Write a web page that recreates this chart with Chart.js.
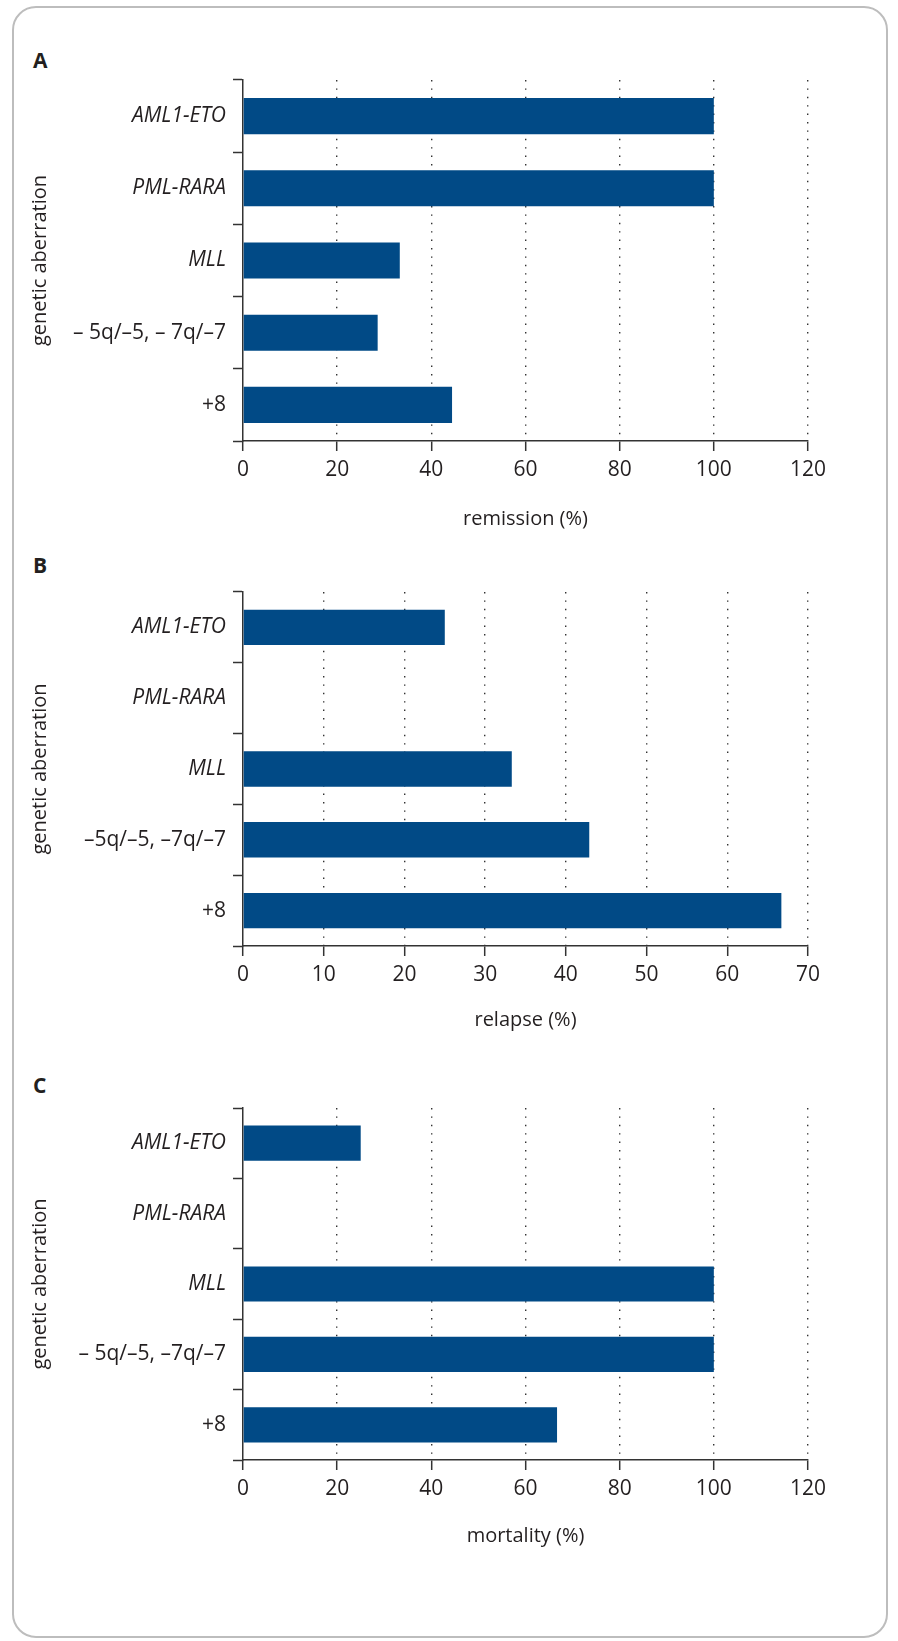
<!DOCTYPE html>
<html>
<head>
<meta charset="utf-8">
<script src="https://cdn.jsdelivr.net/npm/chart.js@4"></script>
<style>
  body { margin: 0; background: #fff; }
  #frame {
    position: absolute; left: 12px; top: 6px; width: 872px; height: 1628px;
    border: 2px solid #bdbdbd; border-radius: 24px;
  }
  .panel {
    position: absolute; left: 33px; font: bold 21px "Open Sans", sans-serif;
    color: #231f20; line-height: 24px;
  }
  .box { position: absolute; left: 0; width: 898px; }
</style>
</head>
<body>
<div id="frame"></div>

<div class="panel" style="top:48px">A</div>
<div class="box" style="top:60px;height:471px"><canvas id="chartA"></canvas></div>

<div class="panel" style="top:553px">B</div>
<div class="box" style="top:572px;height:460px"><canvas id="chartB"></canvas></div>

<div class="panel" style="top:1073px">C</div>
<div class="box" style="top:1088px;height:460px"><canvas id="chartC"></canvas></div>

<script>
// categorias (la etiqueta de -5q/-7q se escribe distinto en cada panel)
const categoriesA = ['AML1-ETO', 'PML-RARA', 'MLL', '– 5q/–5, – 7q/–7', '+8'];
const categoriesB = ['AML1-ETO', 'PML-RARA', 'MLL', '–5q/–5, –7q/–7', '+8'];
const categoriesC = ['AML1-ETO', 'PML-RARA', 'MLL', '– 5q/–5, –7q/–7', '+8'];

// valores en %
const remission = [100, 100, 33.3, 28.6, 44.4];
const relapse = [25, 0, 33.3, 42.9, 66.7];
const mortality = [25, 0, 100, 100, 66.7];

// escalas del eje x
const ticksA = { max: 120, step: 20 };
const ticksB = { max: 70, step: 10 };
const ticksC = { max: 120, step: 20 };

const italicCount = 3; // los tres primeros nombres van en cursiva
const FONT = '"Open Sans", sans-serif';
const AXIS = '#333';
const TEXT = '#231f20';
const BAR = '#014a86';

function makeChart(id, labels, values, ticks, xTitle, axisHeight) {
    const ctx = document.getElementById(id).getContext('2d');
    return new Chart(ctx, {
        type: 'bar',
        data: {
            labels: labels,
            datasets: [{
                data: values,
                backgroundColor: BAR,
                barPercentage: 0.5,
                categoryPercentage: 1.0
            }]
        },
        options: {
            indexAxis: 'y',
            responsive: true,
            maintainAspectRatio: false,
            animation: false,
            layout: { padding: { top: 20, left: 28, right: 90, bottom: 0 } },
            plugins: { legend: { display: false }, tooltip: { enabled: false } },
            scales: {
                x: {
                    min: 0,
                    max: ticks.max,
                    afterFit: scale => { scale.height = axisHeight; },
                    ticks: {
                        stepSize: ticks.step,
                        padding: 6,
                        color: TEXT,
                        font: { family: FONT, size: 21 }
                    },
                    grid: {
                        color: c => (c.tick && c.tick.value === 0) ? 'rgba(0,0,0,0)' : '#333',
                        lineWidth: 1.4,
                        tickColor: AXIS,
                        tickWidth: 1.5,
                        tickLength: 10,
                        tickBorderDash: []
                    },
                    border: { color: AXIS, width: 1.5, dash: [1.4, 7] },
                    title: {
                        display: true,
                        text: xTitle,
                        color: TEXT,
                        padding: 0,
                        font: { family: FONT, size: 20 }
                    }
                },
                y: {
                    afterFit: scale => { scale.width = 215; },
                    ticks: {
                        padding: 7,
                        color: TEXT,
                        font: c => ({
                            family: FONT,
                            size: 21,
                            style: c.index < italicCount ? 'italic' : 'normal'
                        })
                    },
                    grid: {
                        drawOnChartArea: false,
                        tickColor: AXIS,
                        tickWidth: 1.5,
                        tickLength: 10
                    },
                    border: { color: AXIS, width: 1.5 },
                    title: {
                        display: true,
                        text: 'genetic aberration',
                        color: TEXT,
                        padding: 0,
                        font: { family: FONT, size: 20 }
                    }
                }
            }
        }
    });
}

document.addEventListener('DOMContentLoaded', () => {
    makeChart('chartA', categoriesA, remission, ticksA, 'remission (%)', 90);
    makeChart('chartB', categoriesB, relapse, ticksB, 'relapse (%)', 86);
    makeChart('chartC', categoriesC, mortality, ticksC, 'mortality (%)', 88);
});
</script>
</body>
</html>
